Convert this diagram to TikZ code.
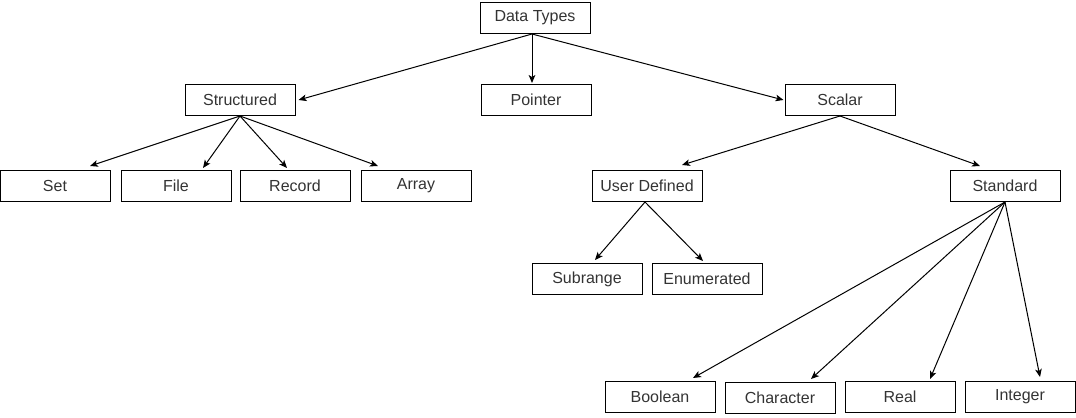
\documentclass[tikz,border=0pt]{standalone}
\usepackage{fontspec}
\setmainfont{Liberation Sans}
\usetikzlibrary{arrows.meta,calc}
\begin{document}
\begin{tikzpicture}[x=0.75pt,y=-0.75pt,
  box/.style={draw=black,line width=0.75pt,minimum width=82.5pt,minimum height=23.25pt,inner sep=0pt,font=\fontsize{12pt}{14pt}\selectfont,text=black!80},
  arr/.style={draw=black,line width=0.75pt,-{Stealth[length=6pt,width=5pt,inset=1.5pt]}}]
\useasboundingbox (0,0) rectangle (1076,418);
\node[box] (dt)  at (535,18)  {Data Types};
\node[box] (st)  at (240,100) {Structured};
\node[box] (ptr) at (536,100) {Pointer};
\node[box] (sc)  at (840,100) {Scalar};
\node[box] (set) at (55,186)  {Set};
\node[box] (file) at (176,186) {File};
\node[box] (rec) at (295,186) {Record};
\node[box] (ary) at (416,186) {Array};
\node[box] (ud)  at (647,186) {User Defined};
\node[box] (std) at (1005,186) {Standard};
\node[box] (sub) at (587,279) {Subrange};
\node[box] (enu) at (707,279) {Enumerated};
\node[box] (boo) at (660,397) {Boolean};
\node[box] (cha) at (780,398) {Character};
\node[box] (rea) at (900,397) {Real};
\node[box] (int) at (1020,397) {Integer};

\draw[arr] ($(dt.south)+(-3,0)$) -- ($(st.east)+(3,0)$);
\draw[arr] ($(dt.south)+(-3,0)$) -- ($(ptr.north)+(-4,-1)$);
\draw[arr] ($(dt.south)+(-3,0)$) -- ($(sc.west)+(-1,0)$);

\draw[arr] (st.south) -- ($(set.north)+(35,-4)$);
\draw[arr] (st.south) -- ($(file.north)+(27,-2)$);
\draw[arr] (st.south) -- ($(rec.north)+(-8,-2)$);
\draw[arr] (st.south) -- ($(ary.north)+(-38,-4)$);

\draw[arr] (sc.south) -- ($(ud.north)+(35,-5)$);
\draw[arr] (sc.south) -- ($(std.north)+(-25,-4)$);

\draw[arr] ($(ud.south)+(-2,0)$) -- ($(sub.north)+(8,-3)$);
\draw[arr] ($(ud.south)+(-2,0)$) -- ($(enu.north)+(-4,-2)$);

\draw[arr] (std.south) -- ($(boo.north)+(33,-3)$);
\draw[arr] (std.south) -- ($(cha.north)+(31,-3)$);
\draw[arr] (std.south) -- ($(rea.north)+(30,-2)$);
\draw[arr] (std.south) -- ($(int.north)+(20,-4)$);
\end{tikzpicture}
\end{document}
